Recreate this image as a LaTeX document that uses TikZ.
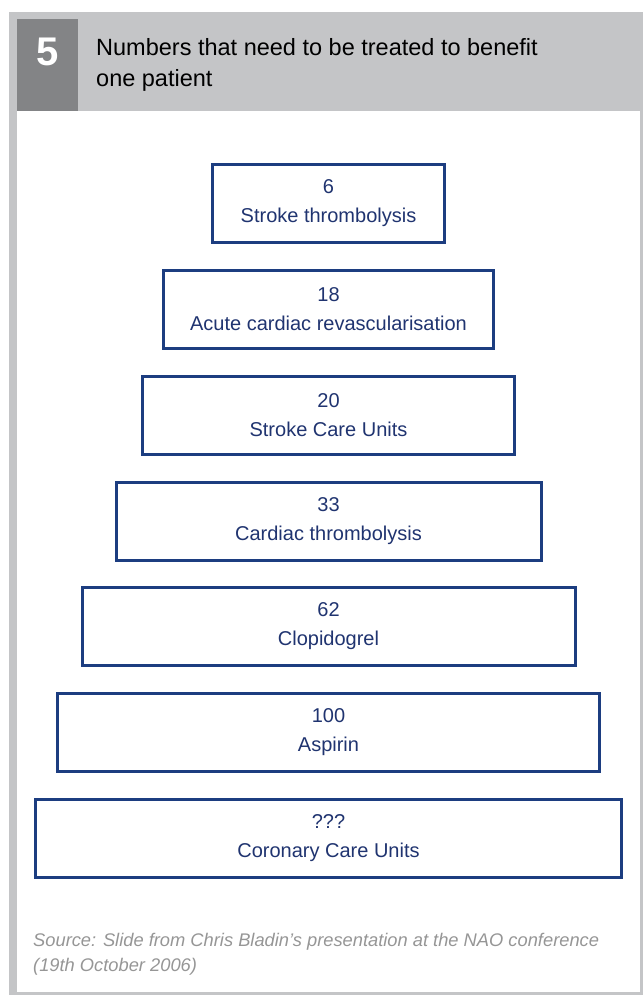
\documentclass[tikz,border=0pt]{standalone}
\usepackage{fontspec}
\setmainfont{Liberation Sans}
\usepackage{xcolor}
\usepackage{tikz}
\definecolor{nntblue}{RGB}{28,61,128}
\definecolor{nnttext}{RGB}{32,52,112}
\definecolor{nntgrey}{RGB}{196,197,199}
\definecolor{nntdark}{RGB}{131,132,134}
\definecolor{nntsource}{RGB}{150,150,150}

\begin{document}
\begin{tikzpicture}[x=1pt, y=-1pt,
    nntbox/.style={draw=nntblue, line width=3pt, fill=white, inner sep=0pt, minimum height=78pt, align=center, text=nnttext, font=\fontsize{20}{29}\selectfont}]
    \useasboundingbox (0,0) rectangle (643,995);

    % Frame and heading
    \fill[nntgrey] (9,12) rectangle (643,995);
    \fill[white] (17,111) rectangle (640,992);
    \fill[nntdark] (17,19) rectangle (78,111);
    \node[font=\fontsize{40}{40}\selectfont\bfseries, text=white] (fig) at (47.5,52) {5};
    \node[anchor=north west, align=left, inner sep=0pt, font=\fontsize{23.5}{31}\selectfont] (title) at (96,38.5) {Numbers that need to be treated to benefit\\one patient};

    % Boxes
    \foreach \i/\y/\w/\n/\lab in {1/203.5/235/6/Stroke thrombolysis,
                                  2/309.5/333/18/Acute cardiac revascularisation,
                                  3/415.5/375/20/Stroke Care Units,
                                  4/521.5/428/33/Cardiac thrombolysis,
                                  5/626.5/496/62/Clopidogrel,
                                  6/732.5/545/100/Aspirin,
                                  7/838/589/???/Coronary Care Units}
        \node[nntbox, minimum width=\w pt-3pt] (box\i) at (328.5,\y) {\n\\\lab};

    % Source
    \node[anchor=north west, align=left, inner sep=0pt, text=nntsource, font=\fontsize{18.3}{24.5}\selectfont\itshape] (source) at (33,933.5) {Source: Slide from Chris Bladin’s presentation at the NAO conference\\(19th October 2006)};
\end{tikzpicture}
\end{document}
